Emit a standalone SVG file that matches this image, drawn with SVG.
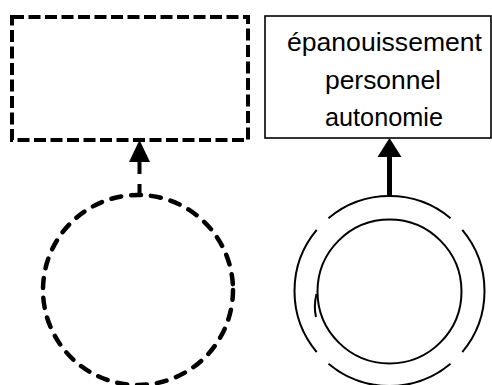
<svg xmlns="http://www.w3.org/2000/svg" width="492" height="385" viewBox="0 0 492 385">
<style>
.dash{fill:none;stroke:#000;stroke-width:4;stroke-dasharray:12 4.5}
.thin{fill:none;stroke:#000;stroke-width:2}
.lbl{font-family:"Liberation Sans",Arial,sans-serif;font-size:26px;fill:#000;text-anchor:middle}
</style>
<rect width="492" height="385" fill="#fff"/>
<g id="node-left-box">
<path class="dash" d="M12,17 H248 V140 H12 Z"/>
</g>
<g id="node-right-box">
<rect x="265" y="16" width="226" height="122" fill="#fff" stroke="#000" stroke-width="1.6"/>
<text class="lbl" x="384.5" y="51" textLength="195" lengthAdjust="spacingAndGlyphs">épanouissement</text>
<text class="lbl" x="383" y="89" textLength="116" lengthAdjust="spacingAndGlyphs">personnel</text>
<text class="lbl" x="384" y="126" textLength="118" lengthAdjust="spacingAndGlyphs">autonomie</text>
</g>
<g id="node-left-circle">
<circle cx="138" cy="290" r="95" fill="none" stroke="#000" stroke-width="4.5" stroke-linecap="round" stroke-dasharray="10 10"/>
</g>
<g id="node-right-circle">
<circle cx="389.5" cy="291" r="95" fill="none" stroke="#000" stroke-width="2" pathLength="360" stroke-dasharray="80 10" stroke-dashoffset="40"/>
<circle class="thin" cx="389.5" cy="291.5" r="72"/>
<path class="thin" d="M316.5,294 Q313.5,306 316,317"/>
</g>
<g id="connectors">
<line x1="139.5" y1="196" x2="139.5" y2="161" stroke="#000" stroke-width="4" stroke-dasharray="12 10"/>
<polygon points="139.5,140 150,162 129,162" fill="#000"/>
<line x1="389.5" y1="196" x2="389.5" y2="156" stroke="#000" stroke-width="5"/>
<polygon points="389.5,138 401.5,157 377.5,157" fill="#000"/>
</g>
</svg>
